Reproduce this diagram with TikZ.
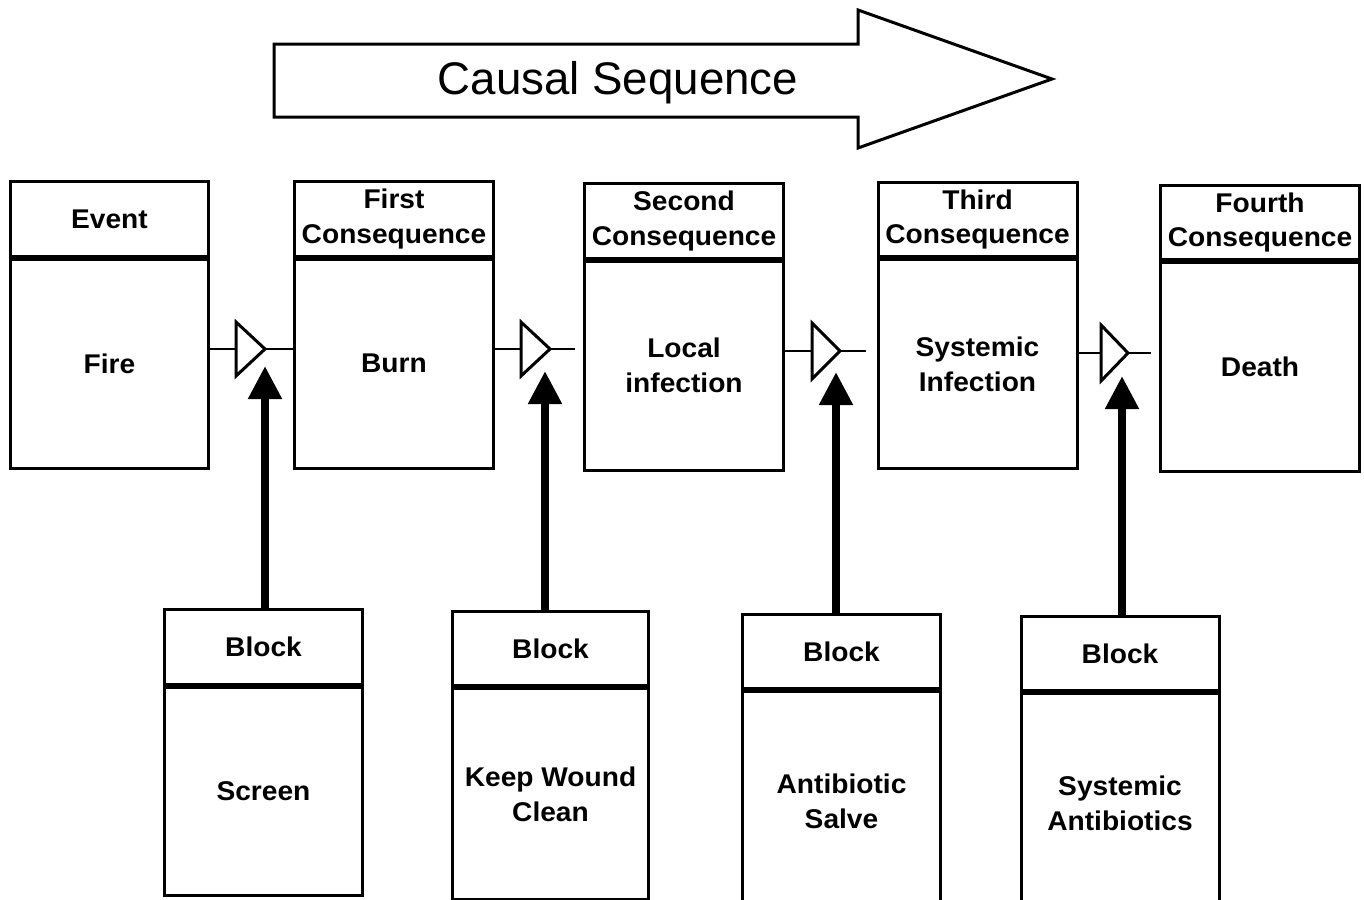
\documentclass[tikz,border=0pt]{standalone}
\usepackage{fontspec}
\setmainfont{Liberation Sans}
\newfontfamily\stretchsans[FakeStretch=1.04]{Liberation Sans}
\newcommand{\cellfont}{\stretchsans\bfseries\fontsize{15.4}{19.9}\selectfont}
\usepackage{tikz}
\usetikzlibrary{arrows.meta,positioning}

\begin{document}
\begin{tikzpicture}[x=0.02cm, y=-0.02cm,
    >={Triangle[length=0.66cm,width=0.64cm]},
    every node/.style={font=\cellfont},
    head/.style={draw, line width=0.06cm, minimum width=3.98cm, minimum height=1.49cm, inner sep=0pt, align=center},
    body/.style={draw, line width=0.06cm, minimum width=3.98cm, minimum height=4.18cm, inner sep=0pt, align=center},
    gate/.style={line width=0.06cm},
    wire/.style={line width=0.045cm},
    stop/.style={->, line width=0.16cm}]

    \path[use as bounding box, clip] (0,0) rectangle (1364,899);

    % Causal sequence arrow
    \draw[line width=0.06cm] (274,44) -- (858,44) -- (858,10) -- (1052,79)
        -- (858,148) -- (858,117) -- (274,117) -- cycle;
    \node[font=\fontsize{26}{31}\selectfont] (causal) at (618,83) {Causal Sequence};

    % Event and consequences (top row)
    \node[head] (eventH) at (109.5,219) {Event};
    \node[body, below=0pt of eventH] (eventB) {Fire};
    \node[head] (firstH) at (394,219) {First\\Consequence};
    \node[body, below=0pt of firstH] (firstB) {Burn};
    \node[head] (secondH) at (684,221) {Second\\Consequence};
    \node[body, below=0pt of secondH] (secondB) {Local\\infection};
    \node[head] (thirdH) at (977.5,219.5) {Third\\Consequence};
    \node[body, below=0pt of thirdH] (thirdB) {Systemic\\Infection};
    \node[head] (fourthH) at (1260,222.5) {Fourth\\Consequence};
    \node[body, below=0pt of fourthH] (fourthB) {Death};

    % Gates
    \draw[gate] (236,322) -- (265,349) coordinate (g1o) -- (236,376) -- cycle;
    \coordinate (g1i) at (236,349);
    \draw[gate] (521,322) -- (550,349) coordinate (g2o) -- (521,376) -- cycle;
    \coordinate (g2i) at (521,349);
    \draw[gate] (812,323) -- (840,351) coordinate (g3o) -- (812,379) -- cycle;
    \coordinate (g3i) at (812,351);
    \draw[gate] (1101,325) -- (1128,353) coordinate (g4o) -- (1101,381) -- cycle;
    \coordinate (g4i) at (1101,353);

    \draw[wire] (eventB.east |- g1i) -- (g1i);
    \draw[wire] (g1o) -- (firstB.west |- g1o);
    \draw[wire] (firstB.east |- g2i) -- (g2i);
    \draw[wire, shorten >=0.16cm] (g2o) -- (secondB.west |- g2o);
    \draw[wire] (secondB.east |- g3i) -- (g3i);
    \draw[wire, shorten >=0.22cm] (g3o) -- (thirdB.west |- g3o);
    \draw[wire] (thirdB.east |- g4i) -- (g4i);
    \draw[wire, shorten >=0.16cm] (g4o) -- (fourthB.west |- g4o);

    % Blocks (bottom row)
    \node[head, minimum width=3.96cm] (screenH) at (263.5,647) {Block};
    \node[body, minimum width=3.96cm, minimum height=4.16cm, below=0pt of screenH] (screenB) {Screen};
    \node[head, minimum width=3.94cm] (cleanH) at (550.5,648.5) {Block};
    \node[body, minimum width=3.94cm, minimum height=4.22cm, below=0pt of cleanH] (cleanB) {Keep Wound\\Clean};
    \node[head, minimum width=3.96cm] (salveH) at (841.5,651.5) {Block};
    \node[body, minimum width=3.96cm, minimum height=4.4cm, below=0pt of salveH] (salveB) {Antibiotic\\Salve};
    \node[head, minimum width=3.96cm] (antiH) at (1120,653.5) {Block};
    \node[body, minimum width=3.96cm, minimum height=4.4cm, below=0pt of antiH] (antiB) {Systemic\\Antibiotics};

    % Block arrows
    \coordinate (t1) at (265,366);
    \coordinate (t2) at (545,371);
    \coordinate (t3) at (836,372);
    \coordinate (t4) at (1122,376);
    \draw[stop] (screenH.north -| t1) -- (t1);
    \draw[stop] (cleanH.north -| t2) -- (t2);
    \draw[stop] (salveH.north -| t3) -- (t3);
    \draw[stop] (antiH.north -| t4) -- (t4);

\end{tikzpicture}
\end{document}
